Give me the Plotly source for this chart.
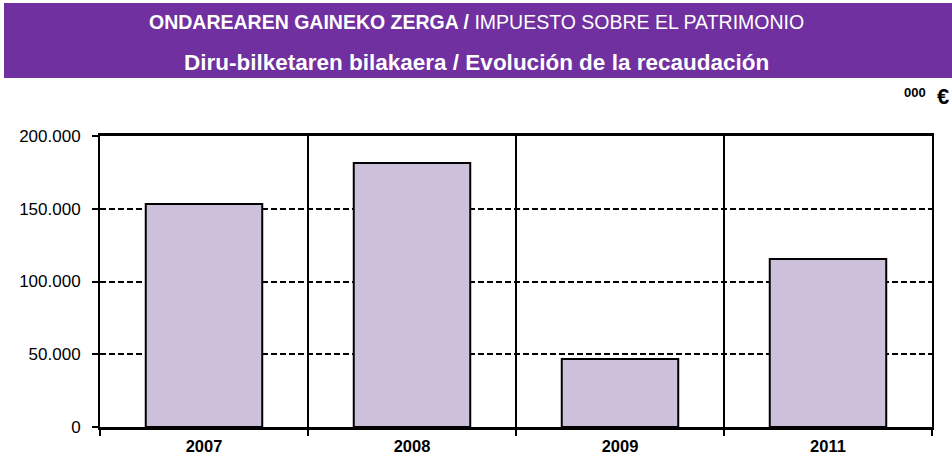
import plotly.graph_objects as go

# Recaudación anual (miles de euros)
years = ["2007", "2008", "2009", "2011"]
revenue = [153300, 181400, 46700, 115500]
y_ticks = [0, 50000, 100000, 150000, 200000]

W, H = 952, 458
L, R, T, B = 100, 20, 136, 31

fig = go.Figure(
    go.Bar(
        x=years,
        y=revenue,
        width=0.56,
        marker=dict(color="#CCC0DA", line=dict(color="black", width=2)),
        hoverinfo="x+y",
    )
)

base_font = "Liberation Sans, Arial, sans-serif"

fig.update_layout(
    width=W,
    height=H,
    margin=dict(l=L, r=R, t=T, b=B),
    paper_bgcolor="white",
    plot_bgcolor="white",
    separators=",.",
    showlegend=False,
    font=dict(family=base_font, color="black"),
    xaxis=dict(
        type="category",
        tickson="boundaries",
        showgrid=True,
        gridcolor="black",
        gridwidth=1.5,
        ticks="outside",
        ticklen=6,
        tickcolor="black",
        tickwidth=1.5,
        showline=True,
        mirror=True,
        linecolor="black",
        linewidth=2.5,
        automargin=False,
        ticklabelstandoff=2,
        tickfont=dict(size=16.5, family=base_font, weight="bold"),
        fixedrange=True,
    ),
    yaxis=dict(
        range=[0, 200000],
        tickvals=y_ticks,
        tickformat=",d",
        showgrid=True,
        gridcolor="black",
        gridwidth=1.5,
        griddash="6px,3px",
        ticks="outside",
        ticklen=6,
        tickcolor="black",
        tickwidth=1.5,
        showline=True,
        mirror=True,
        linecolor="black",
        linewidth=2,
        zeroline=False,
        automargin=False,
        ticklabelstandoff=8,
        tickfont=dict(size=17),
        fixedrange=True,
    ),
)

# Cabecera morada
fig.add_shape(
    type="rect", xref="paper", yref="paper",
    x0=(4 - L) / (W - L - R), x1=(W - L) / (W - L - R) + 0.01,
    y0=1 + (T - 78) / (H - T - B), y1=1 + (T - 3) / (H - T - B),
    fillcolor="#7030A0", line=dict(width=0), layer="below",
)

fig.add_annotation(
    xref="paper", yref="paper",
    x=(476 - L) / (W - L - R), y=1 + (T - 22) / (H - T - B),
    xanchor="center", yanchor="middle", showarrow=False,
    text="<b>ONDAREAREN GAINEKO ZERGA /</b> IMPUESTO SOBRE EL PATRIMONIO",
    font=dict(family=base_font, size=19.5, color="white"),
)
fig.add_annotation(
    xref="paper", yref="paper",
    x=(476 - L) / (W - L - R), y=1 + (T - 62) / (H - T - B),
    xanchor="center", yanchor="middle", showarrow=False,
    text="<b>Diru-bilketaren bilakaera / Evolución de la recaudación</b>",
    font=dict(family=base_font, size=22.5, color="white"),
)

# Unidad: miles de euros
fig.add_annotation(
    xref="paper", yref="paper",
    x=(928 - L) / (W - L - R), y=1 + (T - 92) / (H - T - B),
    xanchor="right", yanchor="middle", showarrow=False,
    text="<b>000</b>",
    font=dict(size=13, color="black"),
)
fig.add_annotation(
    xref="paper", yref="paper",
    x=(951 - L) / (W - L - R), y=1 + (T - 96) / (H - T - B),
    xanchor="right", yanchor="middle", showarrow=False,
    text="<b>€</b>",
    font=dict(size=22, color="black"),
)

fig.write_html("out.html")
